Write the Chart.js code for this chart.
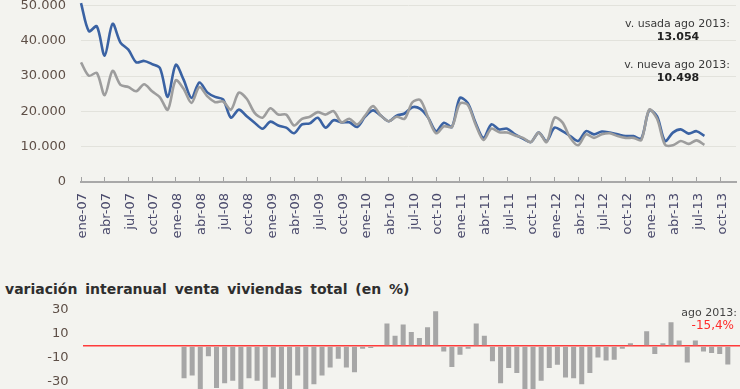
<!DOCTYPE html>
<html>
<head>
<meta charset="utf-8">
<script src="https://cdn.jsdelivr.net/npm/chart.js@4.4.1/dist/chart.umd.min.js"></script>
<style>
  html, body { margin: 0; padding: 0; }
  body { width: 740px; height: 389px; overflow: hidden; background: #f3f3ef; position: relative; font-family: "DejaVu Sans", Verdana, sans-serif; }
  canvas { position: absolute; left: 0; }
  #top { top: 0; }
  #bottom { top: 298px; }
  .note { position: absolute; font-size: 11px; color: #3a3a3a; white-space: nowrap; line-height: 13px; }
  .val { font-weight: bold; color: #222; }
  #title { position: absolute; left: 5px; top: 281px; font-size: 14px; font-weight: bold; color: #2e2e2e; word-spacing: 3px; white-space: nowrap; }
</style>
</head>
<body>
<canvas id="top" width="740" height="250"></canvas>
<canvas id="bottom" width="740" height="102"></canvas>
<div id="title">variación interanual venta viviendas total (en %)</div>
<div class="note" style="right:10px; top:17px; text-align:right;">v. usada ago 2013:</div>
<div class="note val" style="left:640px; width:76px; top:30px; text-align:center;">13.054</div>
<div class="note" style="right:10px; top:58px; text-align:right;">v. nueva ago 2013:</div>
<div class="note val" style="left:640px; width:76px; top:71px; text-align:center;">10.498</div>
<div class="note" style="right:3px; top:306px; text-align:right; color:#444;">ago 2013:</div>
<div class="note" style="right:6px; top:319px; text-align:right; color:#ff2a2a; font-size:12px;">-15,4%</div>
<script>
// ---------- DATA ----------
const monthNames = ['ene','feb','mar','abr','may','jun','jul','ago','sep','oct','nov','dic'];
const years = ['07','08','09','10','11','12','13'];
const categories = [];
years.forEach(y => monthNames.forEach(m => categories.push(m + '-' + y)));

// compraventa vivienda usada (unidades)
const usada = [
  50700, 42700, 44100, 35800, 44800, 39500, 37500, 33900, 34300, 33400, 32300, 24100,
  33200, 29000, 23800, 28200, 25400, 24100, 23400, 18200, 20500, 18600, 16800, 15100,
  17100, 16000, 15400, 13800, 16300, 16600, 18200, 15400, 17500, 16900, 16900, 15600,
  18500, 20300, 18800, 17200, 18800, 19400, 21200, 20700, 18200, 14400, 16800, 15600,
  23800, 22400, 16800, 12500, 16300, 14900, 15100, 13500, 12300, 11300, 14000, 11600,
  15400, 14400, 13000, 11600, 14400, 13500, 14300, 14000, 13500, 13000, 13000, 12300,
  20300, 18600, 11600, 14000, 14900, 13700, 14400, 13054
];
// compraventa vivienda nueva (unidades)
const nueva = [
  33900, 30100, 30900, 24600, 31500, 27500, 26900, 25700, 27700, 25700, 24000, 20500,
  28800, 26400, 22400, 26900, 24300, 22600, 22800, 20500, 25300, 23600, 19600, 18200,
  20900, 19100, 19100, 16000, 17900, 18500, 19800, 19100, 20100, 16900, 17900, 16300,
  18800, 21500, 18800, 17200, 18500, 17900, 22600, 23200, 18200, 13800, 15800, 15600,
  22200, 21900, 16300, 11900, 15100, 14100, 14000, 13200, 12500, 11300, 14000, 11300,
  18200, 16900, 12500, 10400, 13500, 12500, 13500, 13800, 13000, 12500, 12500, 11900,
  20500, 17900, 10600, 10400, 11600, 10800, 11800, 10498
];
// variación interanual venta viviendas total (%)
const variacion = [
  null, null, null, null, null, null, null, null, null, null, null, null,
  -26.8, -24.5, -38, -8.6, -35.1, -31.0, -29.0, -36.3, -26.8, -29.0, -41, -26.2,
  -39, -38, -24.5, -45, -31.8, -24.5, -17.9, -10.6, -17.9, -21.8, -2.2, -1.7,
  0, 18.7, 8.6, 17.9, 11.7, 6.7, 15.6, 29.0, -4.5, -17.6, -7.3, -2.2,
  18.7, 8.6, -12.8, -31.0, -18.4, -22.6, -38, -40, -29.0, -18.4, -15.6, -26.2,
  -26.8, -31.8, -22.6, -9.5, -12.0, -11.4, -2.2, 2.2, 0, 12.3, -6.7, 2.2,
  19.8, 4.5, -13.7, 4.5, -4.5, -5.9, -6.7, -15.4
];
const topTicks = [0, 10000, 20000, 30000, 40000, 50000];
const bottomTicks = [-30, -10, 10, 30];
const lastLabelIndex = categories.indexOf('oct-13');
// ---------------------------

const fmt = v => String(v).replace(/\B(?=(\d{3})+(?!\d))/g, '.');
const font = 'DejaVu Sans';
const noPad = s => { s.paddingTop = 0; s.paddingBottom = 0; s.paddingLeft = 0; s.paddingRight = 0; };

new Chart(document.getElementById('top'), {
  type: 'line',
  data: {
    labels: categories,
    datasets: [
      { label: 'v. nueva', data: nueva, borderColor: '#9d9d9d', borderWidth: 2.6, pointRadius: 0, tension: 0.3, clip: false, order: 0 },
      { label: 'v. usada', data: usada, borderColor: '#3a62a3', borderWidth: 2.6, pointRadius: 0, tension: 0.3, clip: false, order: 1 }
    ]
  },
  options: {
    responsive: false, animation: false, devicePixelRatio: 1,
    layout: { autoPadding: false, padding: { top: 5.5, right: 4, bottom: 0, left: 0 } },
    plugins: { legend: { display: false }, tooltip: { enabled: false } },
    scales: {
      x: {
        afterFit: s => { s.height = 68; noPad(s); },
        grid: {
          drawOnChartArea: false, drawTicks: true, tickLength: -5, lineWidth: 1,
          color: c => (c.index % 3 === 0 && c.index <= lastLabelIndex) ? '#a3a3a3' : 'rgba(0,0,0,0)',
          tickColor: c => (c.index % 3 === 0 && c.index <= lastLabelIndex) ? '#a3a3a3' : 'rgba(0,0,0,0)'
        },
        border: { display: true, color: '#a8a8a8', width: 2 },
        ticks: {
          autoSkip: false, maxRotation: 90, minRotation: 90, padding: 16, labelOffset: 2,
          color: '#4a4a6c', font: { family: font, size: 13 },
          callback: function (v, i) { return (i % 3 === 0 && i <= lastLabelIndex) ? categories[i] : ''; }
        }
      },
      y: {
        min: 0, max: 50000,
        afterFit: s => { s.width = 81; noPad(s); },
        afterBuildTicks: s => { s.ticks = topTicks.map(v => ({ value: v })); },
        grid: { color: '#e2e2dc', lineWidth: 1, drawTicks: false },
        border: { display: false },
        ticks: { padding: 15, color: '#5e4f47', font: { family: font, size: 13 }, callback: v => fmt(v) }
      }
    }
  }
});

new Chart(document.getElementById('bottom'), {
  type: 'bar',
  data: {
    labels: categories.slice(0, 81),
    datasets: [
      { label: 'variación', data: variacion, backgroundColor: '#a6a6a6', categoryPercentage: 1, barPercentage: 0.62 }
    ]
  },
  options: {
    responsive: false, animation: false, devicePixelRatio: 1,
    layout: { autoPadding: false, padding: { top: 0, right: 0, bottom: 0, left: 0 } },
    plugins: { legend: { display: false }, tooltip: { enabled: false } },
    scales: {
      x: { display: false, afterFit: noPad },
      y: {
        min: -45, max: 40, z: 1,
        afterFit: s => { s.width = 82.6; noPad(s); },
        afterBuildTicks: s => { s.ticks = bottomTicks.concat([0]).map(v => ({ value: v })); },
        grid: {
          drawTicks: false, lineWidth: 1.6,
          color: c => (c.tick && c.tick.value === 0) ? '#ff3b3b' : 'rgba(0,0,0,0)'
        },
        border: { display: false },
        ticks: { padding: 14, color: '#5e4f47', font: { family: font, size: 13 }, callback: v => (v === 0 ? '' : v) }
      }
    }
  }
});
</script>
</body>
</html>
